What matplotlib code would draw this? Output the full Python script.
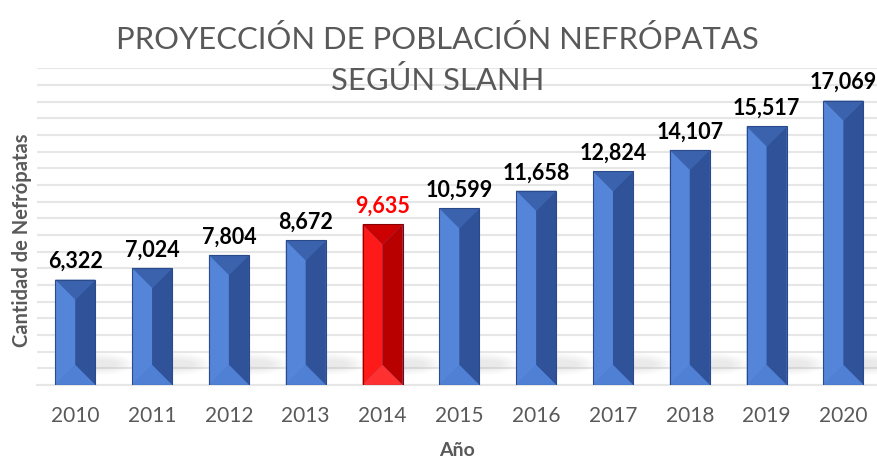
import numpy as np
import matplotlib.pyplot as plt
from matplotlib.patches import Polygon, Ellipse

# Data
years = ["2010", "2011", "2012", "2013", "2014", "2015", "2016", "2017", "2018", "2019", "2020"]
patients = [6322, 7024, 7804, 8672, 9635, 10599, 11658, 12824, 14107, 15517, 17069]
highlight_year = "2014"

plt.rcParams['font.family'] = ['Lato', 'DejaVu Sans']

fig = plt.figure(figsize=(8.78, 4.61), dpi=100)
ax = fig.add_axes([0.042, 0.165, 0.958, 0.6865])

x = np.arange(len(years))
bar_w = 0.52

blue = dict(face="#4a78cc", left="#5585d8", right="#2f5299", top="#3a62ad", bottom="#4f80d4", edge="#2a4a8a")
red = dict(face="#ff1010", left="#ff1a1a", right="#b80000", top="#cc0000", bottom="#ff3030", edge="#8a0000")

bars = ax.bar(x, patients, width=bar_w, color=blue["face"], zorder=3)

# soft shadow behind bars near the floor
for b in bars:
    cx = b.get_x() + b.get_width() / 2
    for k in range(7):
        ax.add_patch(Ellipse((cx + 0.28, 1250), 0.55 + 0.07 * k, 500 + 140 * k,
                             color="#8c8c8c", alpha=0.025, lw=0, zorder=2))

# bevel faces computed from each bar rectangle
ymin, ymax = 0, 19000
px_per_unit = (ax.get_position().height * fig.get_figheight() * fig.dpi) / (ymax - ymin)
px_per_x = (ax.get_position().width * fig.get_figwidth() * fig.dpi) / 10.95
for b, yr in zip(bars, years):
    c = red if yr == highlight_year else blue
    x0 = b.get_x()
    x1 = x0 + b.get_width()
    h = b.get_height()
    cx = (x0 + x1) / 2
    bev = (b.get_width() / 2) * px_per_x / px_per_unit  # 45 degree bevel in data units
    ax.add_patch(Polygon([(x0, 0), (x0, h), (cx, h - bev), (cx, bev)], closed=True,
                         facecolor=c["left"], lw=0, zorder=4))
    ax.add_patch(Polygon([(x1, 0), (x1, h), (cx, h - bev), (cx, bev)], closed=True,
                         facecolor=c["right"], lw=0, zorder=4))
    ax.add_patch(Polygon([(x0, h), (x1, h), (cx, h - bev)], closed=True,
                         facecolor=c["top"], lw=0, zorder=4))
    ax.add_patch(Polygon([(x0, 0), (x1, 0), (cx, bev)], closed=True,
                         facecolor=c["bottom"], lw=0, zorder=4))
    ax.add_patch(Polygon([(x0, 0), (x0, h), (x1, h), (x1, 0)], closed=True,
                         facecolor="none", edgecolor=c["edge"], lw=0.8, zorder=5))
    ax.text(cx, h + 450, f"{h:,.0f}", ha="center", va="bottom", fontsize=15.5,
            fontweight="bold", color="#ff0000" if yr == highlight_year else "black",
            zorder=6, clip_on=False)

ax.set_xlim(-0.5, 10.45)
ax.set_ylim(ymin, ymax)
ax.set_yticks(np.arange(0, 19001, 1000))
ax.set_yticklabels([])
ax.tick_params(axis="y", length=0)
ax.grid(axis="y", color="#e6e6e6", lw=1.5, zorder=0)
ax.set_xticks(x)
ax.set_xticklabels(years, fontsize=15, color="#595959")
ax.tick_params(axis="x", length=0, pad=15)
for s in ["top", "right", "left"]:
    ax.spines[s].set_visible(False)
ax.spines["bottom"].set_color("#e6e6e6")
ax.spines["bottom"].set_linewidth(1.5)

ax.set_xlabel("Año", fontsize=14, fontweight="bold", color="#595959", labelpad=12)
fig.text(0.025, 0.478, "Cantidad de Nefrópatas", rotation=90, ha="center", va="center",
         fontsize=14.5, fontweight="bold", color="#595959")

fig.text(0.498, 0.915, "PROYECCIÓN DE POBLACIÓN NEFRÓPATAS", ha="center", va="center",
         fontsize=22.3, color="#595959")
fig.text(0.498, 0.826, "SEGÚN SLANH", ha="center", va="center",
         fontsize=22.3, color="#595959")

fig.savefig("out.png", dpi=100)
